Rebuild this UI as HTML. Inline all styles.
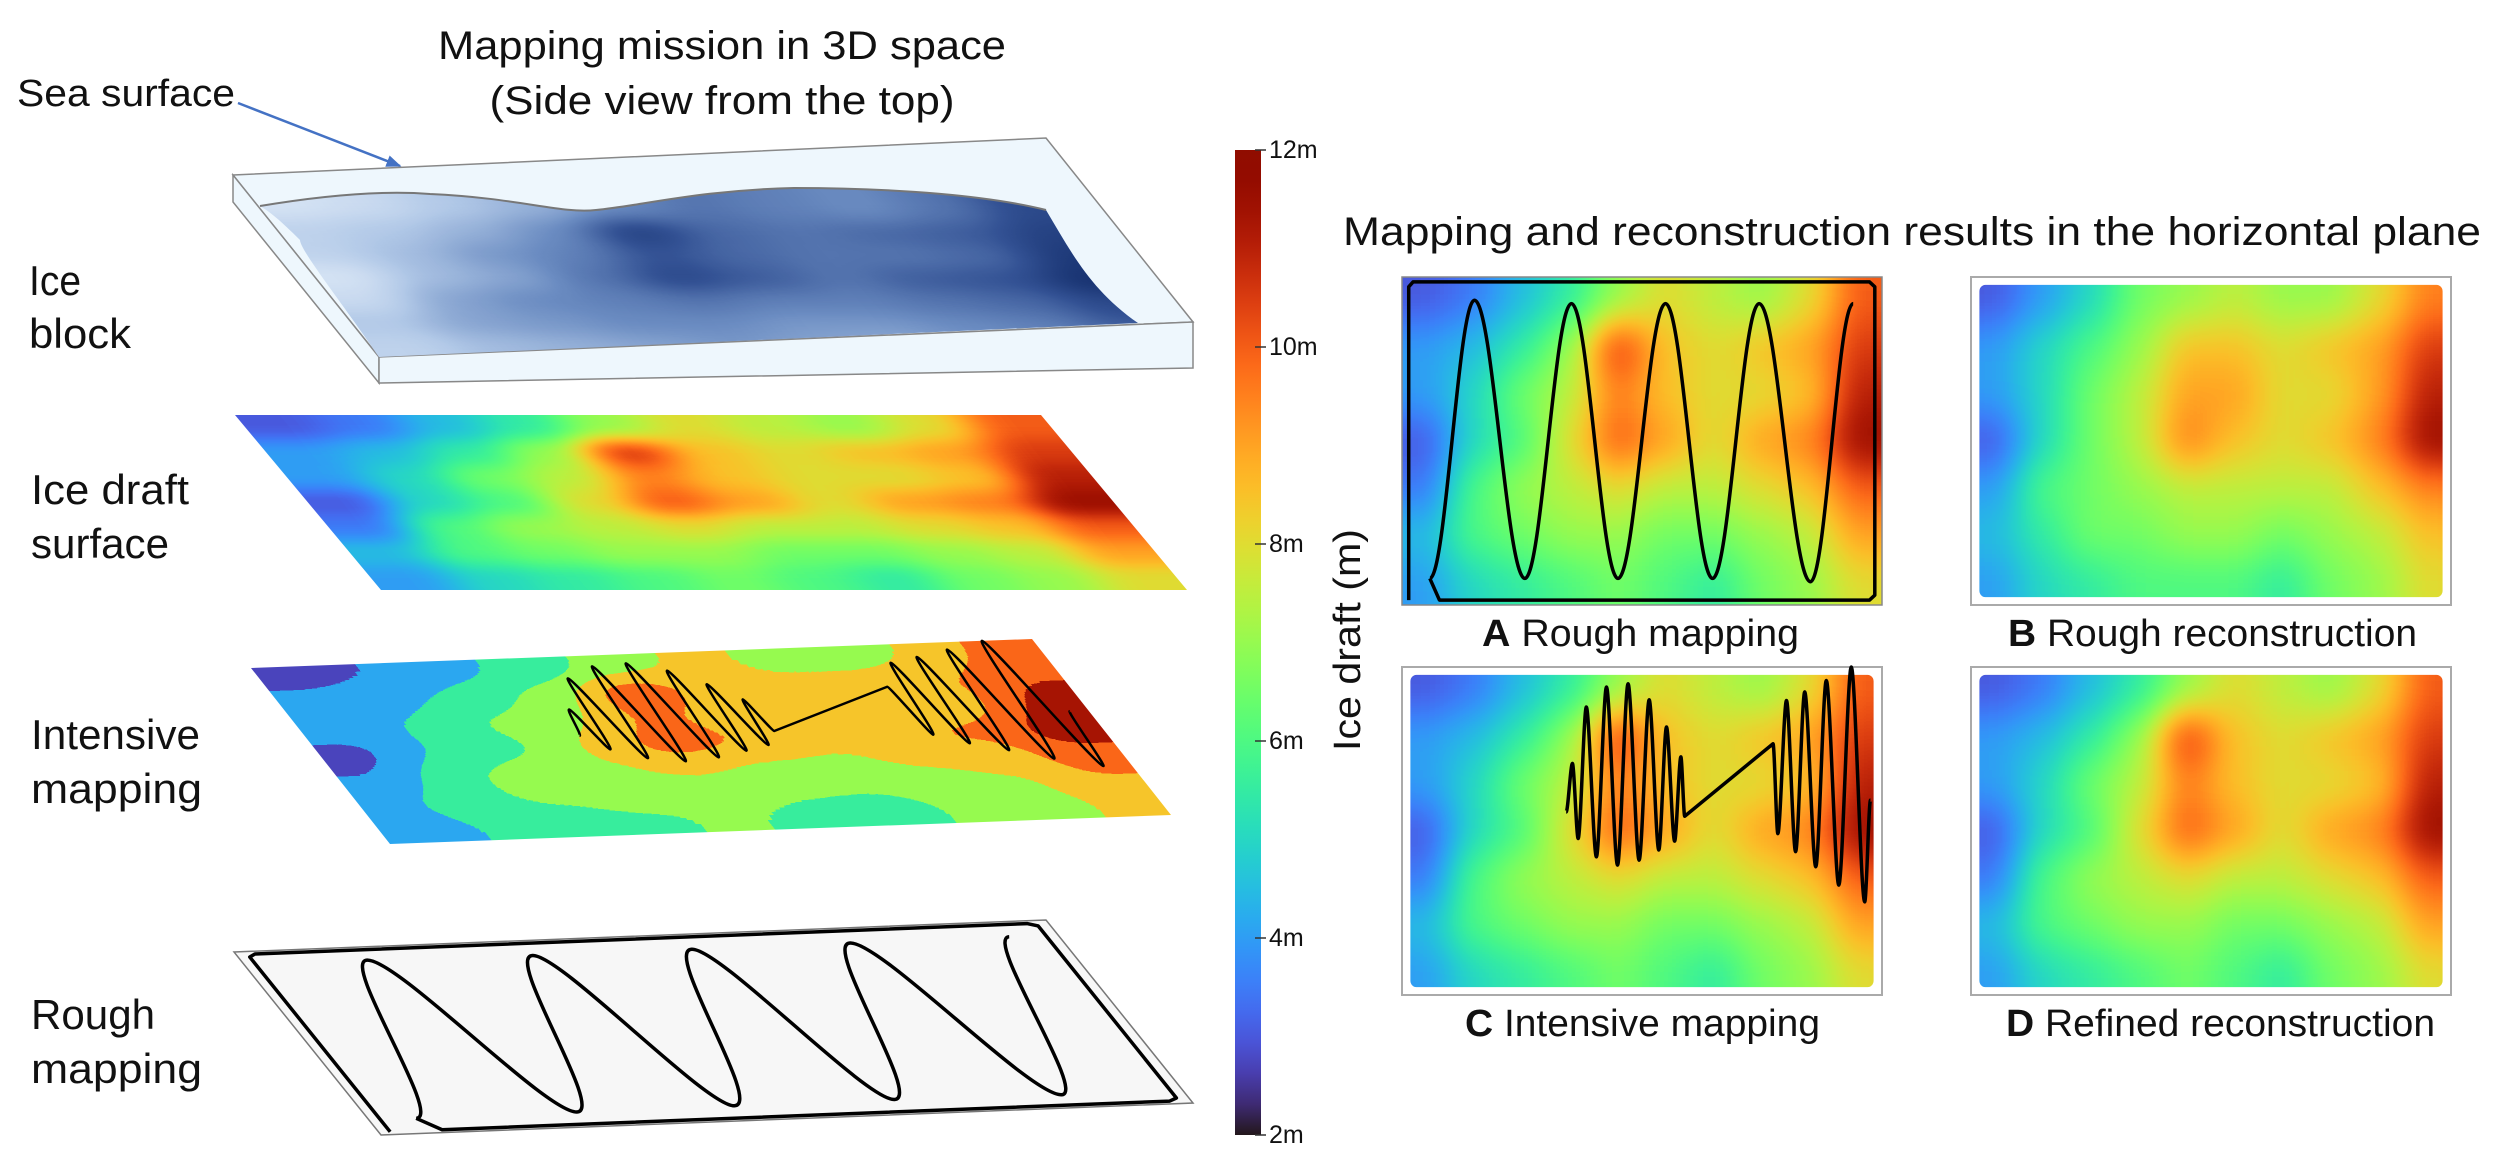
<!DOCTYPE html>
<html><head><meta charset="utf-8"><style>
html,body{margin:0;padding:0;background:#fff;}
svg{display:block;}
text{font-family:"Liberation Sans",sans-serif;fill:#111;}
</style></head><body>
<svg id="fig" width="2500" height="1171" viewBox="0 0 2500 1171" xmlns="http://www.w3.org/2000/svg">
<defs id="defs">
  <marker id="ah" viewBox="0 0 10 10" refX="9" refY="5" markerWidth="6" markerHeight="6" orient="auto"><path d="M0,1 L10,5 L0,9 z" fill="#4472c4"/></marker>
  <linearGradient id="cbGrad" x1="0" y1="1" x2="0" y2="0"></linearGradient>
</defs>
<rect x="0" y="0" width="2500" height="1171" fill="#fff"/>

<text x="722" y="46" text-anchor="middle" dominant-baseline="central" font-size="40" textLength="568" lengthAdjust="spacingAndGlyphs">Mapping mission in 3D space</text>
<text x="722" y="101" text-anchor="middle" dominant-baseline="central" font-size="40" textLength="465" lengthAdjust="spacingAndGlyphs">(Side view from the top)</text>
<text x="17" y="94" dominant-baseline="central" font-size="38" textLength="218" lengthAdjust="spacingAndGlyphs">Sea surface</text>
<line x1="238" y1="103" x2="400" y2="166" stroke="#4472c4" stroke-width="2.5" marker-end="url(#ah)"/>

<text font-size="42" dominant-baseline="central"><tspan x="29" y="280" textLength="52" lengthAdjust="spacingAndGlyphs">Ice</tspan><tspan x="29" y="333" textLength="102" lengthAdjust="spacingAndGlyphs">block</tspan></text>
<text font-size="42" dominant-baseline="central"><tspan x="31" y="489" textLength="158" lengthAdjust="spacingAndGlyphs">Ice draft</tspan><tspan x="31" y="543" textLength="138" lengthAdjust="spacingAndGlyphs">surface</tspan></text>
<text font-size="42" dominant-baseline="central"><tspan x="31" y="734" textLength="169" lengthAdjust="spacingAndGlyphs">Intensive</tspan><tspan x="31" y="788" textLength="171" lengthAdjust="spacingAndGlyphs">mapping</tspan></text>
<text font-size="42" dominant-baseline="central"><tspan x="31" y="1014" textLength="124" lengthAdjust="spacingAndGlyphs">Rough</tspan><tspan x="31" y="1068" textLength="171" lengthAdjust="spacingAndGlyphs">mapping</tspan></text>

<g>
  <polygon points="233,175 1046,138 1193,322 379,357" fill="#eef7fd" stroke="#888" stroke-width="1.5"/>
  <polygon points="233,175 379,357 379,383 233,202" fill="#eef7fd" stroke="#888" stroke-width="1.5"/>
  <polygon points="379,357 1193,322 1193,368 379,383" fill="#eef7fd" stroke="#888" stroke-width="1.5"/>
  <g id="iceClipWrap"></g>
</g>
<g id="layers"></g>

<g id="colorbar">
  <rect x="1235" y="150" width="26" height="985" fill="url(#cbGrad)"/>
</g>
<text transform="translate(1348,640) rotate(-90)" text-anchor="middle" dominant-baseline="central" font-size="38" textLength="222" lengthAdjust="spacingAndGlyphs">Ice draft (m)</text>

<text x="1343" y="232" dominant-baseline="central" font-size="40" textLength="1138" lengthAdjust="spacingAndGlyphs">Mapping and reconstruction results in the horizontal plane</text>
<g id="panels"></g>
<text x="1482" y="634" dominant-baseline="central" font-size="38" textLength="317" lengthAdjust="spacingAndGlyphs"><tspan font-weight="bold">A</tspan> Rough mapping</text>
<text x="2008" y="634" dominant-baseline="central" font-size="38" textLength="409" lengthAdjust="spacingAndGlyphs"><tspan font-weight="bold">B</tspan> Rough reconstruction</text>
<text x="1465" y="1024" dominant-baseline="central" font-size="38" textLength="355" lengthAdjust="spacingAndGlyphs"><tspan font-weight="bold">C</tspan> Intensive mapping</text>
<text x="2006" y="1024" dominant-baseline="central" font-size="38" textLength="429" lengthAdjust="spacingAndGlyphs"><tspan font-weight="bold">D</tspan> Refined reconstruction</text>
</svg>
<script>
const draftRow0 = [3, 3.5, 4.5, 5.5, 7, 8, 7.5, 7, 8, 10];
const draftRow1 = [4, 4.5, 5.5, 7, 10.5, 8.5, 8, 8.5, 9, 10.5];
const draftRow2 = [4, 5, 6.5, 7.5, 9.5, 8.5, 8, 8, 8.5, 11];
const draftRow3 = [3, 5, 6, 8, 10, 9, 8, 9, 9.5, 11.5];
const draftRow4 = [3.5, 6, 7, 7.5, 8, 7.5, 7.5, 8, 8.5, 10];
const draftRow5 = [4.5, 6, 6.5, 7, 7, 6.5, 6.5, 7, 7.5, 9];
const draftRow6 = [4, 5, 5.5, 6, 6.5, 6, 5.5, 6.5, 7, 8];
const roughRow0 = [3, 4, 5, 6.5, 7, 7.5, 7, 7, 8, 9.5];
const roughRow1 = [4, 5, 6, 7, 8.5, 8.5, 8, 8.5, 9, 10.5];
const roughRow2 = [4, 5, 6.5, 7.5, 9, 9, 8, 8, 9, 11];
const roughRow3 = [3, 5, 6.5, 7.5, 9.5, 8.5, 8, 8.5, 9.5, 11.5];
const roughRow4 = [4, 6, 6.5, 7, 7.5, 7.5, 7.5, 7.5, 8.5, 9.5];
const roughRow5 = [4.5, 5.5, 6.5, 6.5, 7, 7, 6.5, 7, 7.5, 8.5];
const roughRow6 = [4, 5, 5.5, 6, 6, 6, 5.5, 6.5, 7, 8];
const draftRows = [draftRow0, draftRow1, draftRow2, draftRow3, draftRow4, draftRow5, draftRow6];
const roughRows = [roughRow0, roughRow1, roughRow2, roughRow3, roughRow4, roughRow5, roughRow6];
const cbTicks = [2, 4, 6, 8, 10, 12];
const cbTickLabels = ["2m", "4m", "6m", "8m", "10m", "12m"];
const trackABorder = [[0.058,0.919],[0.078,0.985],[0.974,0.985],[0.985,0.970],[0.985,0.030],[0.974,0.015],[0.023,0.015],[0.014,0.030],[0.014,0.985]];
const trackASweep = [[0.058,0.919],[0.151,0.071],[0.256,0.919],[0.353,0.081],[0.45,0.919],[0.549,0.081],[0.647,0.919],[0.744,0.081],[0.851,0.929],[0.94,0.081]];
const trackCLeft = [[0.342,0.442],[0.355,0.294],[0.367,0.523],[0.384,0.122],[0.405,0.579],[0.426,0.061],[0.449,0.604],[0.471,0.051],[0.494,0.589],[0.515,0.10],[0.535,0.558],[0.551,0.183],[0.568,0.531],[0.581,0.274],[0.589,0.455]];
const trackCRight = [[0.773,0.234],[0.783,0.508],[0.801,0.102],[0.820,0.563],[0.839,0.076],[0.862,0.609],[0.884,0.041],[0.91,0.665],[0.936,0.0],[0.964,0.716],[0.976,0.406]];

const NS = "http://www.w3.org/2000/svg";
function mk(tag, attrs, parent){ const e=document.createElementNS(NS,tag); for(const k in attrs) e.setAttribute(k,attrs[k]); if(parent) parent.appendChild(e); return e; }
function turbo(t){ t=Math.max(0,Math.min(1,t));
  const r=0.13572138+t*(4.61539260+t*(-42.66032258+t*(132.13108234+t*(-152.94239396+t*59.28637943))));
  const g=0.09140261+t*(2.19418839+t*(4.84296658+t*(-14.18503333+t*(4.27729857+t*2.82956604))));
  const b=0.10667330+t*(12.64194608+t*(-60.58204836+t*(110.36276771+t*(-89.90310912+t*27.34824973))));
  return [r,g,b].map(v=>Math.max(0,Math.min(1,v))); }
const vMin=2, vMax=12;
function norm(v){ return (v-vMin)/(vMax-vMin); }
const defs=document.getElementById('defs');

function makeFilter(id, std, type, colors){
  const f=mk('filter',{id:id,x:'-20%',y:'-20%',width:'140%',height:'140%','color-interpolation-filters':'sRGB'},defs);
  mk('feGaussianBlur',{stdDeviation:std},f);
  const ct=mk('feComponentTransfer',{},f);
  ['R','G','B'].forEach((c,i)=>{ mk('feFunc'+c,{type:type,tableValues:colors.map(col=>col[i].toFixed(3)).join(' ')},ct); });
}
const turboTable=[]; for(let i=0;i<=32;i++) turboTable.push(turbo(i/32));
const turboDiscrete=[]; for(let i=0;i<7;i++) turboDiscrete.push(turbo((i+0.5)/7));
const blueTable=[[0.93,0.96,0.99],[0.70,0.79,0.91],[0.42,0.55,0.76],[0.20,0.32,0.58],[0.06,0.16,0.40]];
makeFilter('fTurbo',30,'table',turboTable);
makeFilter('fTurbo3d',22,'table',turboTable);
makeFilter('fContour',26,'discrete',turboDiscrete);
makeFilter('fBlue',26,'table',blueTable);

let clipN=0;
const W=800, H=500;
function xs(u){ return u*W; }
function ys(v){ return v*H; }
function field(parent, rows, filterId, clipShape, name){
  const id='clip'+(clipN++);
  const cp=mk('clipPath',{id:id},defs);
  if(clipShape) mk('rect',clipShape,cp); else mk('rect',{x:0,y:0,width:W,height:H},cp);
  const gc=mk('g',{'clip-path':'url(#'+id+')'},parent);
  
  
  const gf=mk('g',{filter:'url(#'+filterId+')'},gc);
  const nr=rows.length, nc=rows[0].length, cw=W/nc, chh=H/nr;
  for(let j=-2;j<=nr+1;j++) for(let i=-2;i<=nc+1;i++){
    const jj=Math.max(0,Math.min(nr-1,j)), ii=Math.max(0,Math.min(nc-1,i));
    const g=Math.round(norm(rows[jj][ii])*255);
    const r=mk('rect',{x:(xs(i/nc)).toFixed(1),y:(ys(j/nr)).toFixed(1),width:(cw+1).toFixed(1),height:(chh+1).toFixed(1),fill:'rgb('+g+','+g+','+g+')'},gf);
    
    
  }
  return gc;
}
function polyPath(pts){ return pts.map((p,i)=>(i?'L':'M')+xs(p[0]).toFixed(1)+','+ys(p[1]).toFixed(1)).join(' '); }
function sinePath(pts,k){ let d='M'+xs(pts[0][0]).toFixed(1)+','+ys(pts[0][1]).toFixed(1);
  for(let i=1;i<pts.length;i++){ const x0=xs(pts[i-1][0]),y0=ys(pts[i-1][1]),x1=xs(pts[i][0]),y1=ys(pts[i][1]),dx=x1-x0;
    d+=' C'+(x0+k*dx).toFixed(1)+','+y0.toFixed(1)+' '+(x1-k*dx).toFixed(1)+','+y1.toFixed(1)+' '+x1.toFixed(1)+','+y1.toFixed(1); }
  return d; }
function track(parent,d,sw,name){ const p=mk('path',{d:d,fill:'none',stroke:'#000','stroke-width':sw,'stroke-linejoin':'round','vector-effect':'non-scaling-stroke'},parent);
  
   return p; }
function trackCPath(){ return sinePath(trackCLeft,0.3)+' L'+xs(trackCRight[0][0]).toFixed(1)+','+ys(trackCRight[0][1]).toFixed(1)+' '+sinePath(trackCRight,0.3).replace(/^M[^ ]+/,''); }
function affine(TL,TR,BL){ return 'matrix('+((TR[0]-TL[0])/W)+','+((TR[1]-TL[1])/W)+','+((BL[0]-TL[0])/H)+','+((BL[1]-TL[1])/H)+','+TL[0]+','+TL[1]+')'; }

const iceWrap=document.getElementById('iceClipWrap');
const icp=mk('clipPath',{id:'iceSurfClip'},defs);
mk('path',{d:'M260,206 C320,196 380,190 430,194 C520,198 560,214 596,210 C640,206 700,190 794,188 C900,188 990,196 1046,210 C1070,250 1090,290 1138,323 L379,357 C340,300 300,250 300,240 C280,220 270,212 260,206 Z'},icp);
const iceG=mk('g',{'clip-path':'url(#iceSurfClip)'},iceWrap);
const iceT=mk('g',{transform:affine([236,195],[1060,200],[379,357])},iceG);
field(iceT,draftRows,'fBlue',{x:-50,y:-50,width:W+100,height:H+100},'ice-block-underside');
mk('path',{d:'M260,206 C320,196 380,190 430,194 C520,198 560,214 596,210 C640,206 700,190 794,188 C900,188 990,196 1046,210',fill:'none',stroke:'#777','stroke-width':2},iceWrap);

const layers=document.getElementById('layers');
const draftT=mk('g',{transform:affine([235,415],[1041,415],[381,590])},layers);


field(draftT,draftRows,'fTurbo3d',null,'ice-draft-surface');

const intT=mk('g',{transform:affine([251,668],[1032,639],[390,844])},layers);


field(intT,draftRows,'fContour',null,'contour-surface');
track(intT,trackCPath(),2.5,'intensive-track-3d');

const roughT=mk('g',{transform:affine([234,952],[1046,920],[381,1135])},layers);


const rr=mk('rect',{x:0,y:0,width:W,height:H,fill:'#f7f7f7',stroke:'#777','stroke-width':1.5,'vector-effect':'non-scaling-stroke'},roughT);


track(roughT,polyPath(trackABorder),3.5,'rough-track-border-3d');
track(roughT,sinePath(trackASweep,0.36),3.5,'rough-track-sweep-3d');

const panels=document.getElementById('panels');
const panelDefs=[
  {name:'panel-a',x:1402,y:277,rows:draftRows,framed:false,tr:'A'},
  {name:'panel-b',x:1971,y:277,rows:roughRows,framed:true,tr:null},
  {name:'panel-c',x:1402,y:667,rows:draftRows,framed:true,tr:'C'},
  {name:'panel-d',x:1971,y:667,rows:draftRows,framed:true,tr:null}];
const PW=480, PH=328;
panelDefs.forEach(p=>{
  const g=mk('g',{},panels);
  
  
  if(p.framed){ const fr=mk('rect',{x:p.x,y:p.y,width:PW,height:PH,fill:'#fff',stroke:'#aaa','stroke-width':2},g);
    
     }
  const t=mk('g',{transform:'translate('+p.x+','+p.y+') scale('+(PW/W)+','+(PH/H)+')'},g);
  const inset=p.framed?{x:14,y:12,width:W-28,height:H-24,rx:10}:null;
  field(t,p.rows,'fTurbo',inset,p.name+'-heatmap');
  if(p.tr==='A'){ track(t,polyPath(trackABorder),3.5,'panel-a-track-border'); track(t,sinePath(trackASweep,0.36),3.5,'panel-a-track-sweep');
    const fr=mk('rect',{x:0,y:0,width:W,height:H,fill:'none',stroke:'#888','stroke-width':1.5,'vector-effect':'non-scaling-stroke'},t);
    
     }
  if(p.tr==='C'){ track(t,trackCPath(),3.5,'panel-c-track'); }
});

const grad=document.getElementById('cbGrad');
turboTable.forEach((c,i)=>{ mk('stop',{offset:(i/(turboTable.length-1)).toFixed(3),'stop-color':'rgb('+c.map(v=>Math.round(v*255)).join(',')+')'},grad); });
const cb=document.getElementById('colorbar');
const cbTop=150, cbBot=1135;
function yCb(v){ return cbBot-norm(v)*(cbBot-cbTop); }
cbTicks.forEach((v,i)=>{
  const y=yCb(v);
  const l=mk('line',{x1:1255,x2:1266,y1:y,y2:y,stroke:'#333','stroke-width':1.5},cb);
  
  
  const t=mk('text',{x:1269,y:y,'dominant-baseline':'central','font-size':25},cb);
  t.textContent=cbTickLabels[i];
  
  
});
</script>
</body></html>
